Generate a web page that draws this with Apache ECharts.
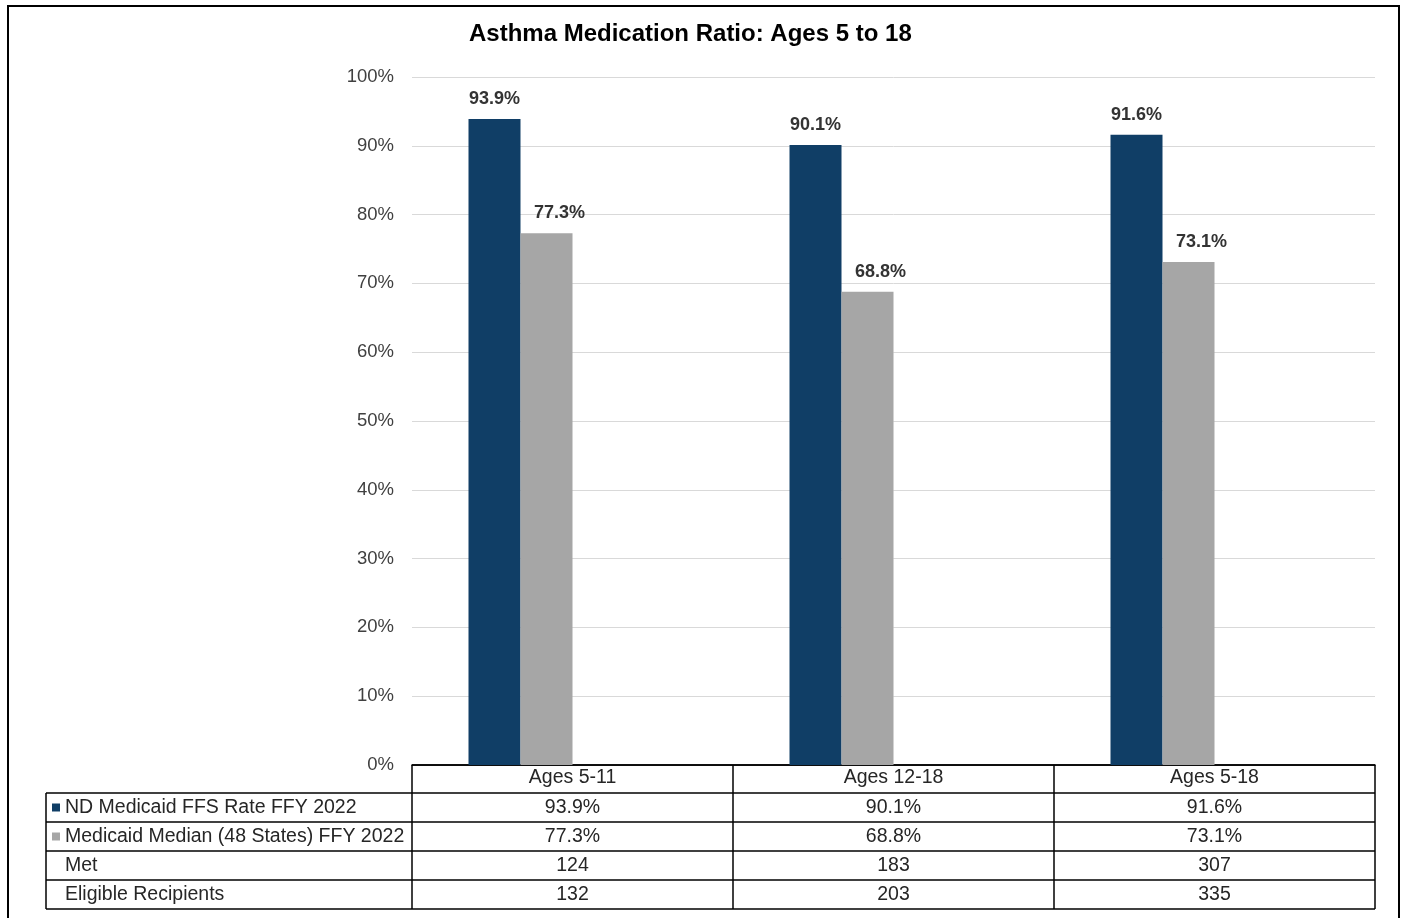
<!DOCTYPE html>
<html>
<head>
<meta charset="utf-8">
<title>Asthma Medication Ratio</title>
<script src="https://cdn.jsdelivr.net/npm/echarts@6/dist/echarts.min.js"></script>
<style>
  html, body { margin: 0; padding: 0; background: #fff; }
  #chart { width: 1405px; height: 918px; }
</style>
</head>
<body>
<div id="chart"></div>
<script>
// chart data
const categories = ["Ages 5-11", "Ages 12-18", "Ages 5-18"];
const ndRate = [93.9, 90.1, 91.6];
const medianRate = [77.3, 68.8, 73.1];
const metCount = [124, 183, 307];
const eligibleCount = [132, 203, 335];
const rowLabels = [
  "ND Medicaid FFS Rate FFY 2022",
  "Medicaid Median (48 States) FFY 2022",
  "Met",
  "Eligible Recipients",
];

const FONT = "'Liberation Sans', Arial, sans-serif";
const NAVY = "#103e66";
const GREY = "#a6a6a6";

const chart = echarts.init(document.getElementById("chart"));

const barLabel = {
  show: true,
  position: "top",
  distance: 11,
  formatter: (p) => p.value.toFixed(1) + "%",
  color: "#333",
  fontSize: 18,
  fontWeight: "bold",
  fontFamily: FONT,
};

chart.setOption({
  animation: false,
  title: {
    text: "Asthma Medication Ratio: Ages 5 to 18",
    left: 464,
    top: 17,
    textStyle: { fontFamily: FONT, fontSize: 24, fontWeight: "bold", color: "#000" },
  },
  grid: { left: 412, right: 30, top: 77, bottom: 153 },
  xAxis: {
    type: "category",
    data: categories,
    axisLine: { show: true, lineStyle: { color: "#000", width: 1.5 } },
    axisTick: { show: false },
    axisLabel: { color: "#262626", fontSize: 19.5, fontFamily: FONT, margin: 3, verticalAlign: "top" },
  },
  yAxis: {
    type: "value",
    min: 0,
    max: 100,
    interval: 10,
    axisLine: { show: false },
    axisTick: { show: false },
    axisLabel: { formatter: "{value}%", color: "#404040", fontSize: 18.5, fontFamily: FONT, margin: 18 },
    splitLine: { lineStyle: { color: "#d9d9d9", width: 1 } },
  },
  series: [
    { name: rowLabels[0], type: "bar", data: ndRate, barWidth: 52, barGap: "0%", itemStyle: { color: NAVY }, label: barLabel },
    { name: rowLabels[1], type: "bar", data: medianRate, barWidth: 52, barGap: "0%", itemStyle: { color: GREY },
      label: Object.assign({}, barLabel, { offset: [13, 0] }) },
    // count rows live in the table only, but still hold a slot in each group
    { name: rowLabels[2], type: "bar", data: [], barWidth: 52, barGap: "0%" },
    { name: rowLabels[3], type: "bar", data: [], barWidth: 52, barGap: "0%" },
  ],
});

// data table under the plot, lined up with the category axis
function drawTable() {
  const centers = categories.map((c, i) => chart.convertToPixel({ xAxisIndex: 0 }, i));
  const band = centers[1] - centers[0];
  const x0 = centers[0] - band / 2;
  const xEnd = centers[centers.length - 1] + band / 2;
  const top = chart.convertToPixel({ yAxisIndex: 0 }, 0);
  const rowH = 29;
  const headH = 28;
  const labelLeft = 46;
  const line = { stroke: "#000", lineWidth: 1.5 };
  const els = [];
  const cellFont = "19.5px " + FONT;

  // outer frame of the whole picture
  els.push({ type: "rect", shape: { x: 8, y: 6, width: 1391, height: 930 }, style: { fill: null, stroke: "#000", lineWidth: 2 }, silent: true });

  const rows = [
    ndRate.map((v) => v.toFixed(1) + "%"),
    medianRate.map((v) => v.toFixed(1) + "%"),
    metCount.map(String),
    eligibleCount.map(String),
  ];
  const bodyTop = top + headH;
  const bottom = bodyTop + rows.length * rowH;

  // horizontal lines
  els.push({ type: "line", shape: { x1: x0, y1: top, x2: xEnd, y2: top }, style: line });
  for (let r = 0; r <= rows.length; r++) {
    const y = bodyTop + r * rowH;
    els.push({ type: "line", shape: { x1: labelLeft, y1: y, x2: xEnd, y2: y }, style: line });
  }
  // vertical lines
  els.push({ type: "line", shape: { x1: labelLeft, y1: bodyTop, x2: labelLeft, y2: bottom }, style: line });
  for (let i = 0; i <= categories.length; i++) {
    const x = x0 + i * band;
    els.push({ type: "line", shape: { x1: x, y1: top, x2: x, y2: bottom }, style: line });
  }

  const swatch = [NAVY, GREY, null, null];
  rows.forEach((cells, r) => {
    const cy = bodyTop + r * rowH + rowH / 2;
    if (swatch[r]) {
      els.push({ type: "rect", shape: { x: 52, y: cy - 4, width: 8, height: 8 }, style: { fill: swatch[r] } });
    }
    els.push({
      type: "text", x: 65, y: cy,
      style: { text: rowLabels[r], fill: "#262626", font: cellFont, textAlign: "left", textVerticalAlign: "middle" },
    });
    cells.forEach((t, i) => {
      els.push({
        type: "text", x: centers[i], y: cy,
        style: { text: t, fill: "#262626", font: cellFont, textAlign: "center", textVerticalAlign: "middle" },
      });
    });
  });

  chart.setOption({ graphic: els });
}

drawTable();
</script>
</body>
</html>
